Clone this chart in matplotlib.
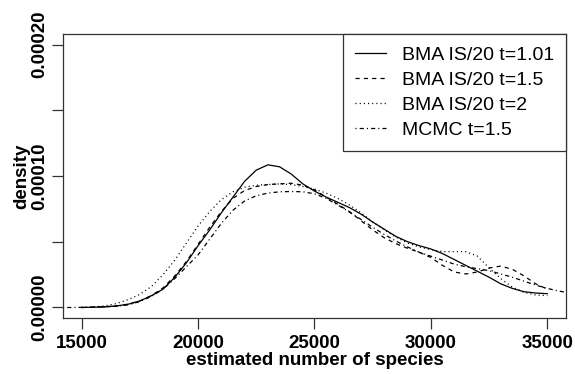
import matplotlib
matplotlib.use("Agg")
from matplotlib import pyplot as plt
import numpy as np

plt.rcParams['font.family'] = ['Liberation Sans', 'DejaVu Sans']
plt.rcParams['lines.scale_dashes'] = False

# grid of species counts shared by the three BMA curves
xs = [15000 + 500 * i for i in range(41)]

# densities, in units of 1e-5
bma_101 = [0.0, 0.02, 0.05, 0.12, 0.25, 0.5, 0.9, 1.4, 2.3, 3.4,
           4.7, 5.9, 7.2, 8.4, 9.6, 10.45, 10.85, 10.7, 10.15, 9.4,
           8.85, 8.4, 8.0, 7.6, 7.1, 6.5, 5.95, 5.4, 5.0, 4.7,
           4.45, 4.1, 3.65, 3.2, 2.75, 2.3, 1.8, 1.45, 1.2, 1.1, 1.05]
bma_15 = [0.0, 0.02, 0.05, 0.12, 0.25, 0.5, 0.9, 1.5, 2.4, 3.5,
          4.8, 6.1, 7.3, 8.3, 8.9, 9.2, 9.35, 9.4, 9.45, 9.3,
          8.95, 8.4, 7.85, 7.3, 6.6, 5.9, 5.3, 4.85, 4.5, 4.2,
          3.8, 3.2, 2.7, 2.55, 2.7, 3.0, 3.15, 2.9, 2.4, 1.8, 1.4]
bma_2 = [0.0, 0.05, 0.12, 0.3, 0.6, 1.0, 1.6, 2.5, 3.6, 4.9,
         6.2, 7.3, 8.2, 8.8, 9.15, 9.3, 9.35, 9.4, 9.35, 9.2,
         9.0, 8.7, 8.3, 7.8, 7.2, 6.5, 5.9, 5.35, 4.9, 4.6,
         4.4, 4.25, 4.25, 4.25, 3.9, 3.0, 2.2, 1.55, 1.15, 0.95, 0.9]

mcmc_x = [14200, 14500] + xs + [35500, 35800]
mcmc_15 = [0.0, 0.0,
           0.01, 0.02, 0.05, 0.1, 0.2, 0.45, 0.85, 1.4, 2.2, 3.1,
           4.0, 5.2, 6.4, 7.4, 8.1, 8.5, 8.7, 8.8, 8.82, 8.8,
           8.65, 8.3, 7.8, 7.25, 6.7, 6.1, 5.55, 5.05, 4.6, 4.2,
           3.9, 3.6, 3.3, 3.1, 2.95, 2.8, 2.55, 2.3, 2.0, 1.7, 1.45,
           1.25, 1.15]

labels = ['BMA IS/20 t=1.01', 'BMA IS/20 t=1.5', 'BMA IS/20 t=2', 'MCMC t=1.5']

fig = plt.figure(figsize=(5.75, 3.74), dpi=100)
ax = fig.add_axes([0.1096, 0.1497, 0.8747, 0.7594])

lw = 0.9
ax.plot(xs, np.array(bma_101) * 1e-5, color='black', lw=lw, label=labels[0])
ax.plot(xs, np.array(bma_15) * 1e-5, color='black', lw=lw, dashes=(3, 3), label=labels[1])
ax.plot(xs, np.array(bma_2) * 1e-5, color='black', lw=lw, dashes=(0.8, 2.2), label=labels[2])
ax.plot(mcmc_x, np.array(mcmc_15) * 1e-5, color='black', lw=lw,
        dashes=(0.8, 2.2, 3, 2.2), label=labels[3])

ax.set_xlim(14200, 35800)
ax.set_ylim(-0.000008, 0.000208)
ax.set_xticks([15000, 20000, 25000, 30000, 35000])
ax.set_yticks([0, 0.00005, 0.0001, 0.00015, 0.0002])
ax.set_yticklabels(['0.00000', '', '0.00010', '', '0.00020'],
                   rotation=90, va='center')
ax.tick_params(direction='out', length=8, width=0.9, labelsize=13.5, color='#333333')
ax.tick_params(axis='x', pad=4)
ax.tick_params(axis='y', pad=2.5)
for t in ax.get_xticklabels() + ax.get_yticklabels():
    t.set_fontweight('bold')
for s in ax.spines.values():
    s.set_linewidth(0.9)
    s.set_color('#333333')

ax.set_xlabel('estimated number of species', fontsize=13.5, fontweight='bold', labelpad=0)
ax.set_ylabel('density', fontsize=13.5, fontweight='bold', labelpad=1)

leg = ax.legend(loc='upper right', borderaxespad=0, fancybox=False, framealpha=1,
                edgecolor='#333333', fontsize=14, handlelength=1.6, handletextpad=0.8,
                labelspacing=0.38, borderpad=0.62)
leg.get_frame().set_linewidth(0.9)

fig.savefig('out.png', dpi=100)
